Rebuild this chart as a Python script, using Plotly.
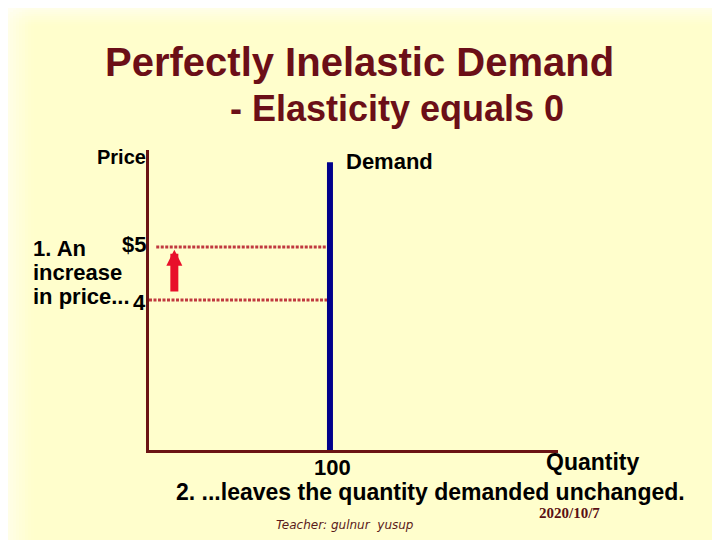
import plotly.graph_objects as go

# data
prices = [4, 5]                 # price rises from 4 to 5
quantity_demanded = 100         # stays the same
demand_price_span = [1.17, 6.6]
price_labels = ["4", "$5"]
x_range = [0, 226]
y_range = [1.17, 6.83]

# the page puts the figure 8px in from the top-left corner
OFF = 8
W, H = 720 - OFF, 540 - OFF

# plot area in page pixels (left, right, top, bottom)
L, R, T, B = 149, 558, 150, 450

DARK_RED = "#6B0F17"
AXIS_COL = "#6B1414"
FONT = "Liberation Sans"


def px(x):
    return (x - L) / (R - L)


def py(y):
    return (B - y) / (B - T)


fig = go.Figure()

# dotted price lines
fig.add_trace(go.Scatter(
    x=[0, quantity_demanded], y=[prices[0], prices[0]],
    mode="lines", line=dict(color="#C0393F", width=3, dash="3px,1.5px"),
    hoverinfo="skip"
))
fig.add_trace(go.Scatter(
    x=[4, quantity_demanded], y=[prices[1], prices[1]],
    mode="lines", line=dict(color="#C0393F", width=3, dash="3px,1.5px"),
    hoverinfo="skip"
))

# vertical demand curve
fig.add_trace(go.Scatter(
    x=[quantity_demanded, quantity_demanded], y=demand_price_span,
    mode="lines", line=dict(color="#00008B", width=6),
    hoverinfo="skip"
))

annotations = []

# red arrow for the price increase
annotations.append(dict(
    x=14, y=prices[1] - 0.05, xref="x", yref="y",
    ax=14, ay=prices[0] + 0.13, axref="x", ayref="y",
    showarrow=True, arrowhead=2, arrowsize=0.4, arrowwidth=8,
    arrowcolor="#E8102A", text=""
))


def label(text, x, y, size=22, color="black", xanchor="center", bold=True,
          family=FONT, xref="paper", yref="paper", style="normal"):
    annotations.append(dict(
        text=f"<b>{text}</b>" if bold else text,
        x=x, y=y, xref=xref, yref=yref, xanchor=xanchor, yanchor="middle",
        showarrow=False,
        font=dict(family=family, size=size, color=color, style=style)
    ))


label("Perfectly Inelastic Demand", px(359), py(62), size=40, color=DARK_RED)
label("- Elasticity equals 0", px(397), py(109), size=36, color=DARK_RED)
label("Price", px(148), py(157), size=20, xanchor="right")
label("Demand", px(344), py(161), size=22, xanchor="left")
label(price_labels[1], px(148), prices[1] + 0.05, yref="y", xanchor="right")
label(price_labels[0], px(148), prices[0] - 0.05, yref="y", xanchor="right")
label("1. An", px(31), py(248), xanchor="left")
label("increase", px(31), py(272), xanchor="left")
label("in price...", px(31), py(296), xanchor="left")
label(str(quantity_demanded), quantity_demanded + 1.5, py(467), xref="x")
label("Quantity", px(592), py(462), size=23)
label("2. ...leaves the quantity demanded unchanged.", px(430), py(492), size=23)
label("2020/10/7", px(569), py(513), size=15, color="#5A0F14",
      family="Liberation Serif")
label("Teacher: gulnur  yusup", px(345), py(525), size=12, color="#5A1A1A",
      bold=False, family="DejaVu Sans", style="italic")

# soft white fade along the top and left edges of the slide
shapes = []
steps = 10
for i in range(steps):
    a = 0.16 * (1 - i / steps)
    shapes.append(dict(type="rect", xref="paper", yref="paper", layer="below",
                       x0=px(0), x1=px(720), y0=py(0), y1=py(OFF + 2 + i * 2),
                       fillcolor=f"rgba(255,255,255,{a:.3f})", line_width=0))
    shapes.append(dict(type="rect", xref="paper", yref="paper", layer="below",
                       x0=px(0), x1=px(OFF + 2 + i * 3), y0=py(0), y1=py(540),
                       fillcolor=f"rgba(255,255,255,{a:.3f})", line_width=0))

fig.update_layout(
    width=W, height=H,
    margin=dict(l=L - OFF, r=720 - R, t=T - OFF, b=540 - B),
    paper_bgcolor="#FFFECC",
    plot_bgcolor="rgba(0,0,0,0)",
    showlegend=False,
    xaxis=dict(range=x_range, showgrid=False, zeroline=False, showticklabels=False,
               ticks="", showline=True, linecolor=AXIS_COL, linewidth=3, fixedrange=True),
    yaxis=dict(range=y_range, showgrid=False, zeroline=False, showticklabels=False,
               ticks="", showline=True, linecolor=AXIS_COL, linewidth=3, fixedrange=True),
    annotations=annotations,
    shapes=shapes,
)

fig.write_html("out.html")
